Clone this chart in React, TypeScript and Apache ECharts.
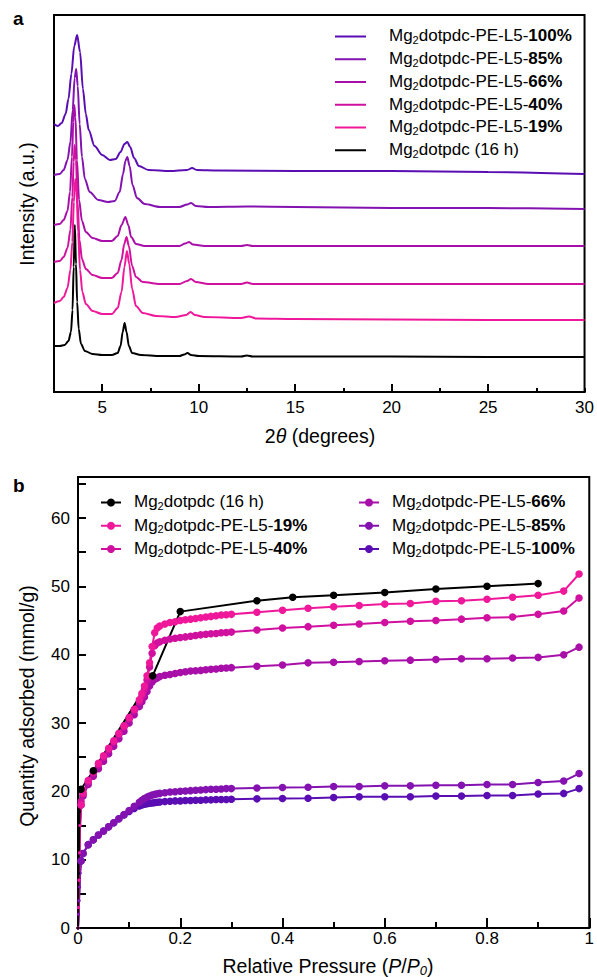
import React, { useEffect, useRef } from 'react';
import * as echarts from 'echarts';

const FONT = '"Liberation Sans", Arial, Helvetica, sans-serif';

// ---------- Panel a: PXRD (2θ, intensity in a.u.) ----------
const xrd100: number[][] = [[2.5,268],[2.7,266],[2.9,269],[3.1,278],[3.25,293],[3.4,318],[3.55,346],[3.7,357],[3.85,340],[4.0,303],[4.15,278],[4.3,262],[4.6,246],[5.0,237],[5.4,232],[5.7,233],[5.95,240],[6.15,248],[6.3,250],[6.45,245],[6.65,234],[6.9,226],[7.4,222],[8.5,221],[9.4,222],[9.66,224],[9.9,222],[11,221.5],[15,221],[20,221],[25,220],[30,218]];
const xrd85: number[][] = [[2.5,217],[2.8,218],[3.0,222],[3.2,232],[3.35,250],[3.47,282],[3.57,314],[3.65,323],[3.73,306],[3.83,268],[3.95,235],[4.1,213],[4.35,200],[4.8,192],[5.3,190],[5.65,191],[5.9,200],[6.08,218],[6.2,231],[6.3,235],[6.42,226],[6.57,207],[6.8,194],[7.2,188],[8.0,185],[9.0,185],[9.4,187.5],[9.6,189],[9.85,186],[10.5,185],[12.5,185.5],[15,185],[20,184],[25,184],[30,183]];
const xrd66: number[][] = [[2.5,167],[2.8,168],[3.0,172],[3.2,181],[3.33,200],[3.43,235],[3.5,270],[3.55,287],[3.61,275],[3.69,232],[3.8,192],[3.95,171],[4.15,160],[4.5,154],[5.0,151],[5.5,151],[5.8,156],[6.0,167],[6.2,175],[6.35,167],[6.5,155],[6.75,148],[7.2,146],[9.0,146],[9.3,148.5],[9.5,150],[9.7,147.5],[10.3,146],[12.2,146],[12.5,147],[12.8,146],[15,146],[20,146],[25,146],[30,146]];
const xrd40: number[][] = [[2.5,130],[2.8,131],[3.0,135],[3.2,144],[3.35,162],[3.45,195],[3.52,230],[3.57,247],[3.64,232],[3.72,190],[3.82,152],[3.95,133],[4.15,123],[4.5,117],[5.0,114],[5.5,114],[5.8,119],[6.0,132],[6.14,148],[6.26,155],[6.38,146],[6.55,126],[6.75,115],[7.1,110],[8.0,108],[9.0,108],[9.4,111],[9.6,113],[9.85,110],[10.5,108],[12.2,108],[12.5,109.5],[12.8,108],[15,108],[20,108],[25,108],[30,108]];
const xrd19: number[][] = [[2.5,89],[2.8,91],[3.0,95],[3.2,104],[3.35,122],[3.45,150],[3.53,190],[3.6,213],[3.67,200],[3.75,160],[3.85,122],[3.97,100],[4.15,88],[4.5,81],[5.0,78],[5.5,78],[5.8,84],[6.0,100],[6.15,125],[6.28,141],[6.4,128],[6.55,103],[6.75,86],[7.1,79],[7.8,76],[8.8,75],[9.35,77],[9.58,80],[9.8,77],[10.3,75],[12.2,74],[12.6,75.5],[13.0,73.5],[15,73],[20,72.5],[25,72],[30,72]];
const xrd0: number[][] = [[2.5,46],[2.8,46],[3.05,47],[3.25,51],[3.38,60],[3.46,82],[3.52,125],[3.58,167],[3.64,128],[3.7,90],[3.78,63],[3.9,48],[4.1,41],[4.5,38],[5.0,37],[5.5,37],[5.8,39],[5.95,46],[6.06,60],[6.16,69],[6.26,60],[6.38,46],[6.55,39],[7.0,37],[8.0,36],[9.0,36],[9.25,37.5],[9.42,39],[9.6,37],[10.0,36],[12.2,35.5],[12.5,36.5],[12.8,35.5],[15,35.5],[20,35.5],[25,35],[30,35]];

// ---------- Panel b: N2 isotherms (P/P0, mmol/g) ----------
const pInit = [0, 0.001, 0.002, 0.003, 0.004, 0.006];
const pLow = [0.01,0.02,0.03,0.04,0.05,0.06,0.07,0.08,0.09,0.10,0.11,0.12,0.125,0.13,0.135,0.14,0.145,0.15,0.155,0.16,0.17,0.18,0.19,0.20,0.21,0.22,0.23,0.24,0.25,0.26,0.27,0.28,0.29,0.30];
const pHigh = [0.35,0.40,0.45,0.50,0.55,0.60,0.65,0.70,0.75,0.80,0.85,0.90,0.95,0.98];
const pAll = [...pInit, ...pLow, ...pHigh];

const q19 = [0,3,7,11,15,18,
  19.8,21.6,22.9,24.1,25.2,26.3,27.4,28.5,29.6,30.8,32.0,33.4,34.3,35.4,36.9,38.8,41.2,43.2,43.9,44.2,44.5,44.7,44.8,45.0,45.1,45.2,45.3,45.4,45.5,45.6,45.7,45.8,45.85,45.9,
  46.2,46.5,46.8,47.0,47.2,47.4,47.5,47.8,47.9,48.1,48.4,48.7,49.3,51.8];
const q40 = [0,3,7,11,15,18.5,
  19.6,21.4,22.7,23.9,25.0,26.1,27.2,28.3,29.4,30.6,31.8,33.1,33.9,34.9,36.3,38.2,40.2,41.3,41.7,41.9,42.1,42.3,42.4,42.5,42.6,42.7,42.8,42.9,43.0,43.05,43.1,43.2,43.25,43.3,
  43.6,43.9,44.1,44.3,44.5,44.7,44.9,45.0,45.2,45.4,45.5,45.9,46.4,48.3];
const q66 = [0,3,7,11,15,18,
  19.3,21.0,22.2,23.3,24.4,25.5,26.6,27.7,28.8,30.0,31.2,32.4,33.1,33.8,34.6,35.4,36.0,36.4,36.6,36.8,37.0,37.1,37.25,37.4,37.5,37.6,37.65,37.7,37.8,37.85,37.9,38.0,38.05,38.1,
  38.3,38.5,38.8,38.9,39.0,39.1,39.2,39.3,39.4,39.4,39.5,39.6,40.0,41.1];
const q85 = [0,2,4,6,8,9.8,
  10.9,12.2,12.9,13.6,14.2,14.8,15.4,16.0,16.6,17.2,17.8,18.4,18.7,18.95,19.15,19.3,19.45,19.55,19.65,19.7,19.8,19.9,19.95,20.0,20.05,20.1,20.15,20.2,20.25,20.3,20.3,20.35,20.4,20.4,
  20.5,20.55,20.6,20.7,20.7,20.8,20.8,20.9,20.9,21.0,21.0,21.3,21.5,22.6];
const q100 = [0,2,4,6,8,9.8,
  10.9,12.2,12.9,13.6,14.2,14.8,15.4,16.0,16.55,17.05,17.5,17.85,18.0,18.1,18.2,18.25,18.3,18.35,18.4,18.45,18.5,18.55,18.6,18.6,18.65,18.65,18.7,18.7,18.75,18.75,18.8,18.8,18.8,18.85,
  18.9,18.95,19.0,19.1,19.2,19.2,19.2,19.3,19.3,19.4,19.4,19.6,19.7,20.4];
const pBlack = [0, 0.001, 0.003, 0.006, 0.03, 0.146, 0.2, 0.35, 0.42, 0.5, 0.6, 0.7, 0.8, 0.9];
const qBlack = [0, 8, 17, 20.3, 23.0, 36.9, 46.3, 47.9, 48.4, 48.7, 49.1, 49.6, 50.0, 50.4];

const COLORS: Record<string, string> = {
  '100': '#5a0db2',
  '85': '#8312b0',
  '66': '#a80fa8',
  '40': '#d0119f',
  '19': '#f0189a',
  '0': '#000000',
};
const LABELS: Record<string, string> = {
  '100': '{m|Mg}{s|2}{m|dotpdc-PE-L5-}{b|100%}',
  '85': '{m|Mg}{s|2}{m|dotpdc-PE-L5-}{b|85%}',
  '66': '{m|Mg}{s|2}{m|dotpdc-PE-L5-}{b|66%}',
  '40': '{m|Mg}{s|2}{m|dotpdc-PE-L5-}{b|40%}',
  '19': '{m|Mg}{s|2}{m|dotpdc-PE-L5-}{b|19%}',
  '0': '{m|Mg}{s|2}{m|dotpdc (16 h)}',
};

const pair = (ps: number[], qs: number[]) => ps.map((p, i) => [p, qs[i]]);

function buildOption() {
  const richBase = {
    m: { fontSize: 17, lineHeight: 18, padding: [0, 0, 1.5, 0], fontFamily: FONT, color: '#000' },
    s: { fontSize: 11, lineHeight: 11, padding: [8.5, 0, 0, 0], verticalAlign: 'bottom', fontFamily: FONT, color: '#000' },
    b: { fontSize: 17, lineHeight: 18, padding: [0, 0, 1.5, 0], fontWeight: 'bold', fontFamily: FONT, color: '#000' },
  };
  const legendText = { fontSize: 17, lineHeight: 18, fontFamily: FONT, color: '#000' };
  const axisLineStyle = { color: '#000', width: 2 };
  const lbl = { fontSize: 17, fontFamily: FONT, color: '#000' };

  const xrdSeries = [
    ['100', xrd100], ['85', xrd85], ['66', xrd66], ['40', xrd40], ['19', xrd19], ['0', xrd0],
  ].map(([k, d]: any) => ({
    name: 'a' + k,
    type: 'line',
    xAxisIndex: 0,
    yAxisIndex: 0,
    data: d,
    symbol: 'none',
    smooth: 0.3,
    smoothMonotone: 'x',
    color: COLORS[k],
    lineStyle: { width: 2, color: COLORS[k] },
  }));

  const isoSeries = [
    ['100', pair(pAll, q100)], ['85', pair(pAll, q85)], ['66', pair(pAll, q66)],
    ['40', pair(pAll, q40)], ['19', pair(pAll, q19)], ['0', pair(pBlack, qBlack)],
  ].map(([k, d]: any) => ({
    name: 'b' + k,
    type: 'line',
    xAxisIndex: 2,
    yAxisIndex: 1,
    data: d,
    symbol: 'circle',
    symbolSize: (v: number[]) => (v[0] < 0.005 ? 3 : 7.5),
    showAllSymbol: true,
    color: COLORS[k],
    lineStyle: { width: 2, color: COLORS[k] },
    itemStyle: { color: COLORS[k], borderWidth: 0 },
  }));

  return {
    animation: false,
    backgroundColor: '#ffffff',
    grid: [
      { left: 54, top: 15, width: 533, height: 377, show: true, borderColor: '#000', borderWidth: 2, backgroundColor: 'transparent' },
      { left: 78, top: 477, width: 514, height: 451, show: true, borderColor: '#000', borderWidth: 2, backgroundColor: 'transparent' },
    ],
    xAxis: [
      {
        gridIndex: 0, type: 'value', min: 2.5, max: 30, interval: 2.5,
        axisLine: { lineStyle: axisLineStyle },
        axisTick: { inside: true, length: 4, lineStyle: axisLineStyle },
        axisLabel: { ...lbl, margin: 7, formatter: (v: number) => (Math.abs(v / 5 - Math.round(v / 5)) < 1e-6 ? String(Math.round(v)) : '') },
        splitLine: { show: false },
      },
      {
        gridIndex: 0, type: 'value', min: 2.5, max: 30, position: 'bottom',
        axisLine: { show: false },
        axisTick: { inside: true, length: 8, lineStyle: axisLineStyle, customValues: [5, 10, 15, 20, 25] },
        axisLabel: { show: false },
        splitLine: { show: false },
      },
      {
        gridIndex: 1, type: 'value', min: 0, max: 1, interval: 0.1,
        axisLine: { lineStyle: axisLineStyle },
        axisTick: { inside: true, length: 6, lineStyle: axisLineStyle },
        axisLabel: {
          ...lbl, margin: 2,
          formatter: (v: number) => {
            const k = Math.round(v * 10);
            if (k % 2 !== 0) return '';
            if (k === 0) return '0';
            if (k === 10) return '1';
            return (k / 10).toFixed(1);
          },
        },
        splitLine: { show: false },
      },
      {
        gridIndex: 1, type: 'value', min: 0, max: 1, interval: 0.2, position: 'bottom',
        axisLine: { show: false },
        axisTick: { inside: true, length: 10, lineStyle: axisLineStyle },
        axisLabel: { show: false },
        splitLine: { show: false },
      },
    ],
    yAxis: [
      {
        gridIndex: 0, type: 'value', min: 0, max: 377,
        axisLine: { show: true, lineStyle: axisLineStyle },
        axisTick: { show: false }, axisLabel: { show: false }, splitLine: { show: false },
      },
      {
        gridIndex: 1, type: 'value', min: 0, max: 66, interval: 5,
        axisLine: { show: true, lineStyle: axisLineStyle },
        axisTick: { inside: true, length: 8, lineStyle: axisLineStyle },
        axisLabel: { ...lbl, margin: 8, formatter: (v: number) => (Math.round(v) % 10 === 0 ? String(Math.round(v)) : '') },
        splitLine: { show: false },
      },
    ],
    legend: [
      {
        orient: 'vertical', left: 335, top: 26, padding: 0, itemGap: 3,
        itemWidth: 31, itemHeight: 2, icon: 'rect', selectedMode: false,
        data: ['a100', 'a85', 'a66', 'a40', 'a19', 'a0'],
        formatter: (n: string) => '{g| }' + LABELS[n.slice(1)],
        textStyle: { ...legendText, rich: { ...richBase, g: { width: 18, fontSize: 17, lineHeight: 18 } } },
      },
      {
        orient: 'vertical', left: 100, top: 492, padding: 0, itemGap: 3.5,
        itemWidth: 20, itemHeight: 10, selectedMode: false,
        data: ['b0', 'b19', 'b40'],
        formatter: (n: string) => '{g| }' + LABELS[n.slice(1)],
        textStyle: { ...legendText, rich: { ...richBase, g: { width: 8, fontSize: 17, lineHeight: 18 } } },
      },
      {
        orient: 'vertical', left: 358, top: 492, padding: 0, itemGap: 3.5,
        itemWidth: 20, itemHeight: 10, selectedMode: false,
        data: ['b66', 'b85', 'b100'],
        formatter: (n: string) => '{g| }' + LABELS[n.slice(1)],
        textStyle: { ...legendText, rich: { ...richBase, g: { width: 8, fontSize: 17, lineHeight: 18 } } },
      },
    ],
    graphic: [
      { type: 'text', x: 13, y: 18.5, style: { text: 'a', fontSize: 19, fontWeight: 'bold', fontFamily: FONT, fill: '#000', align: 'left', verticalAlign: 'middle' } },
      { type: 'text', x: 13, y: 485.5, style: { text: 'b', fontSize: 19, fontWeight: 'bold', fontFamily: FONT, fill: '#000', align: 'left', verticalAlign: 'middle' } },
      {
        type: 'text', x: 320, y: 436,
        style: {
          text: '2{i|θ} (degrees)', fontSize: 19.5, fontFamily: FONT, fill: '#000', align: 'center', verticalAlign: 'middle',
          rich: { i: { fontStyle: 'italic', fontSize: 19.5, fontFamily: FONT, fill: '#000' } },
        },
      },
      {
        type: 'text', x: 27, y: 204, rotation: Math.PI / 2,
        style: { text: 'Intensity (a.u.)', fontSize: 19.5, fontFamily: FONT, fill: '#000', align: 'center', verticalAlign: 'middle' },
      },
      {
        type: 'text', x: 27, y: 706, rotation: Math.PI / 2,
        style: { text: 'Quantity adsorbed (mmol/g)', fontSize: 19.5, fontFamily: FONT, fill: '#000', align: 'center', verticalAlign: 'middle' },
      },
      {
        type: 'text', x: 328, y: 966,
        style: {
          text: 'Relative Pressure ({i|P}/{i|P}{s|0})', fontSize: 19.5, lineHeight: 22, fontFamily: FONT, fill: '#000', align: 'center', verticalAlign: 'middle',
          rich: {
            i: { fontStyle: 'italic', fontSize: 19.5, lineHeight: 22, fontFamily: FONT, fill: '#000' },
            s: { fontStyle: 'italic', fontSize: 13, lineHeight: 12, padding: [10, 0, 0, 0], verticalAlign: 'bottom', fontFamily: FONT, fill: '#000' },
          },
        },
      },
    ],
    series: [...xrdSeries, ...isoSeries],
  };
}

export default function App() {
  const ref = useRef<HTMLDivElement>(null);
  useEffect(() => {
    if (!ref.current) return;
    const chart = echarts.init(ref.current, null, { renderer: 'svg' });
    chart.setOption(buildOption() as any);
    return () => chart.dispose();
  }, []);
  return (
    <div
      ref={ref}
      style={{ position: 'fixed', left: 0, top: 0, width: 597, height: 977, background: '#ffffff' }}
    />
  );
}
